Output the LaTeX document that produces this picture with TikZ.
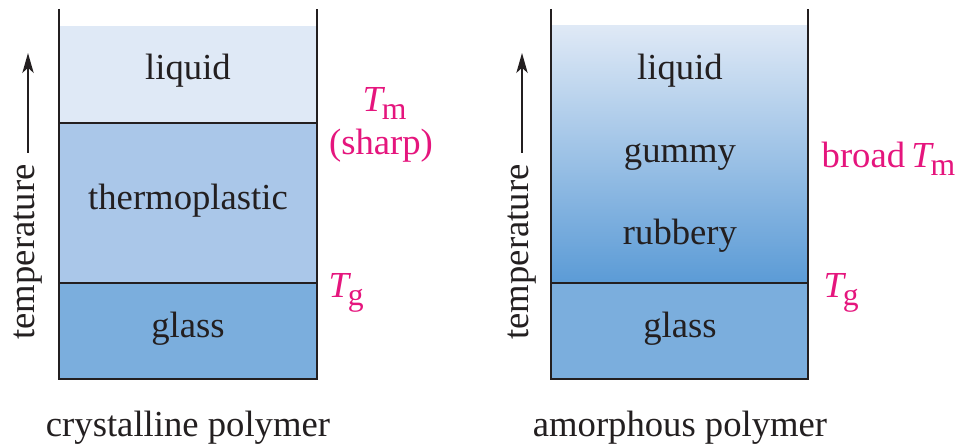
\documentclass[tikz,border=0pt]{standalone}
\usepackage{fontspec}
\setmainfont{Liberation Serif}
\usepackage{xcolor}
\usetikzlibrary{arrows.meta,positioning}
\definecolor{liqcol}{HTML}{DFE9F6}
\definecolor{thcol}{HTML}{AAC7E9}
\definecolor{glcol}{HTML}{7BAEDD}
\definecolor{rubcol}{HTML}{5B9BD6}
\definecolor{tcol}{HTML}{E5157D}
\definecolor{ink}{HTML}{231F20}
\newcommand{\lowsub}[1]{\kern-1pt\raisebox{-0.45ex}{\fontsize{9.5}{10}\selectfont #1}}

\begin{document}
\begin{tikzpicture}[x=0.3pt,y=-0.3pt,font=\fontsize{11}{13}\selectfont,>={Stealth[length=6pt,width=3.4pt,inset=1.6pt]},
  lab/.style={anchor=base,text=ink},
  tlab/.style={anchor=base west,inner sep=0pt,text=tcol},
  tmp/.style={rotate=90,text=ink},
  wall/.style={draw=ink,line width=0.85pt},
  sep/.style={draw=ink,line width=0.6pt}]
  \useasboundingbox (0,0) rectangle (956,445);
  % crystalline
  \fill[liqcol] (59,26) rectangle (317,123);
  \fill[thcol] (59,123) rectangle (317,283);
  \fill[glcol] (59,283) rectangle (317,379);
  \draw[sep] (59,123) -- (317,123);
  \draw[sep] (59,283) -- (317,283);
  \draw[wall] (59,9) -- (59,379) -- (317,379) -- (317,9);
  \node[lab] (liqA) at (188,80) {liquid};
  \node[lab] (thA) at (188,210) {thermoplastic};
  \node[lab] (glA) at (188,338) {glass};
  \node[lab] (capA) at (188,437) {crystalline polymer};
  \node[tlab] (tmA) at (362,112) {\textit{T}\lowsub{m}};
  \node[lab,text=tcol] (shA) at (381,155) {(sharp)};
  \node[tlab] (tgA) at (328,298) {\textit{T}\lowsub{g}};
  \node[tmp] (tempA) at (28,252) {temperature};
  \coordinate (topA) at (28,53);
  \draw[->,ink,line width=0.6pt] (tempA) -- (topA);
  % amorphous
  \shade[top color=liqcol,bottom color=rubcol] (551,26) rectangle (808,283);
  \fill[glcol] (551,283) rectangle (808,379);
  \draw[sep] (551,283) -- (808,283);
  \draw[wall] (551,9) -- (551,379) -- (808,379) -- (808,9);
  \node[lab] (liqB) at (680,80) {liquid};
  \node[lab] (guB) at (680,163) {gummy};
  \node[lab] (ruB) at (680,245) {rubbery};
  \node[lab] (glB) at (680,338) {glass};
  \node[lab] (capB) at (680,437) {amorphous polymer};
  \node[tlab] (tmB) at (821,168) {broad\hspace{0.17em}\textit{T}\lowsub{m}};
  \node[tlab] (tgB) at (823,298) {\textit{T}\lowsub{g}};
  \node[tmp] (tempB) at (522,252) {temperature};
  \coordinate (topB) at (522,53);
  \draw[->,ink,line width=0.6pt] (tempB) -- (topB);
\end{tikzpicture}
\end{document}
